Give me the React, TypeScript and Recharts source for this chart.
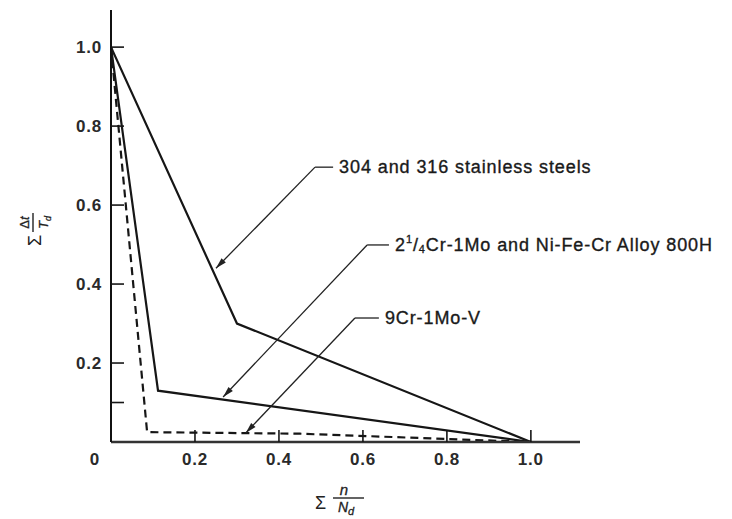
import React from 'react';
import { LineChart, Line, XAxis, YAxis, ReferenceLine } from 'recharts';

// Σ n/N_d values (x) and Σ Δt/T_d values (y) for each material
const stainlessX = [0, 0.3, 1.0];
const stainlessY = [1.0, 0.3, 0.0];
const crMoX = [0, 0.112, 1.0];
const crMoY = [1.0, 0.13, 0.0];
const crMoVX = [0, 0.086, 0.45, 1.0];
const crMoVY = [1.0, 0.025, 0.021, 0.0];

const xTicks = [0, 0.2, 0.4, 0.6, 0.8, 1.0];
const xTickLabels = ['0', '0.2', '0.4', '0.6', '0.8', '1.0'];
const yTicks = [0.1, 0.2, 0.4, 0.6, 0.8, 1.0];
const yTickLabels = ['', '0.2', '0.4', '0.6', '0.8', '1.0'];

// annotation anchors in data space: arrow tip, leader bend, leader end
const noteLabels = ['304 and 316 stainless steels', '2¼Cr-1Mo and Ni-Fe-Cr Alloy 800H', '9Cr-1Mo-V'];
const noteTipX = [0.25, 0.267, 0.321];
const noteTipY = [0.44, 0.114, 0.023];
const noteBendX = [0.486, 0.61, 0.581];
const noteBendY = [0.696, 0.499, 0.314];
const noteEndX = [0.529, 0.662, 0.638];

const toPoints = (xs: number[], ys: number[]) => xs.map((x, i) => ({ x, y: ys[i] }));
const stainlessData = toPoints(stainlessX, stainlessY);
const crMoData = toPoints(crMoX, crMoY);
const crMoVData = toPoints(crMoVX, crMoVY);

const FONT = '"Liberation Sans", Arial, Helvetica, sans-serif';
const INK = '#161616';

const YTick = (props: any) => {
  const { x, y, payload } = props;
  const idx = yTicks.indexOf(payload.value);
  const label = idx >= 0 ? yTickLabels[idx] : '';
  return (
    <g>
      <line x1={x} y1={y} x2={x + 13} y2={y} stroke={INK} strokeWidth={1.6} />
      {label && (
        <text x={x - 9} y={y} textAnchor="end" dominantBaseline="central" fontFamily={FONT}
          fontSize={17} fontWeight={600} fill="#2a2a2a" letterSpacing={0.8}>{label}</text>
      )}
    </g>
  );
};

const XTick = (props: any) => {
  const { x, y, payload } = props;
  const idx = xTicks.indexOf(payload.value);
  const label = idx >= 0 ? xTickLabels[idx] : '';
  const isZero = payload.value === 0;
  return (
    <g>
      {!isZero && <line x1={x} y1={y} x2={x} y2={y - 12} stroke={INK} strokeWidth={1.6} />}
      <text x={isZero ? x - 16 : x} y={y + 17} textAnchor="middle" dominantBaseline="central"
        fontFamily={FONT} fontSize={17} fontWeight={600} fill="#2a2a2a" letterSpacing={0.8}>{label}</text>
    </g>
  );
};

const YTitle = () => (
  <g transform="translate(25,220) rotate(-90)" fontFamily={FONT} fill="#222">
    <text x={-18} y={8} fontSize={18}>Σ</text>
    <text x={5.5} y={-4} fontSize={13} textAnchor="middle" stroke="#222" strokeWidth={0.3}>Δ<tspan fontStyle="italic">t</tspan></text>
    <line x1={-4} y1={0} x2={15} y2={0} stroke="#222" strokeWidth={1.4} />
    <text x={5.5} y={15} fontSize={13} textAnchor="middle" fontStyle="italic" stroke="#222" strokeWidth={0.3}>T<tspan fontSize={9} dy={3}>d</tspan></text>
  </g>
);

const XTitle = () => (
  <g fontFamily={FONT} fill="#222">
    <text x={307} y={501} fontSize={18}>Σ</text>
    <text x={336} y={487} fontSize={15} textAnchor="middle" fontStyle="italic" stroke="#222" strokeWidth={0.3}>n</text>
    <line x1={325} y1={490} x2={356} y2={490} stroke="#222" strokeWidth={1.4} />
    <text x={338} y={504} fontSize={14} textAnchor="middle" fontStyle="italic" stroke="#222" strokeWidth={0.3}>N<tspan fontSize={11} dy={3}>d</tspan></text>
  </g>
);

const ArrowShape = (p: any) => {
  const { x1, y1, x2, y2 } = p;
  const dx = x2 - x1;
  const dy = y2 - y1;
  const len = Math.hypot(dx, dy) || 1;
  const ux = dx / len;
  const uy = dy / len;
  const L = 11;
  const W = 3;
  const bx = x1 + ux * L;
  const by = y1 + uy * L;
  return (
    <g>
      <line x1={x1} y1={y1} x2={x2} y2={y2} stroke="#222" strokeWidth={1.3} />
      <polygon points={`${x1},${y1} ${bx - uy * W},${by + ux * W} ${bx + uy * W},${by - ux * W}`} fill="#222" />
    </g>
  );
};

const makeLeaderShape = (label: string) => (p: any) => {
  const { x1, y1, x2, y2 } = p;
  const isCr = label.startsWith('2¼');
  return (
    <g>
      <line x1={x1} y1={y1} x2={x2} y2={y2} stroke="#222" strokeWidth={1.3} />
      <text x={x2 + 6} y={y2} dominantBaseline="central" fontFamily={FONT} fontSize={18}
        fill="#1a1a1a" stroke="#1a1a1a" strokeWidth={0.35} letterSpacing={0.9}>
        {isCr ? (
          <>
            2<tspan fontSize={11} dy={-6}>1</tspan><tspan dy={6}>/</tspan><tspan fontSize={11} dy={4}>4</tspan><tspan dy={-4}>{label.slice(2)}</tspan>
          </>
        ) : label}
      </text>
    </g>
  );
};

export default function App() {
  return (
    <LineChart width={716} height={511} margin={{ top: 2, right: 144, bottom: 0, left: 0 }}>
      <XAxis type="number" dataKey="x" domain={[0, 1.117]} ticks={xTicks} allowDataOverflow
        height={77} tickSize={0} tickMargin={0} tick={<XTick />} tickLine={false}
        axisLine={{ stroke: '#333', strokeWidth: 2.5 }} label={<XTitle />} interval={0} />
      <YAxis type="number" dataKey="y" domain={[0, 1.094]} ticks={yTicks} allowDataOverflow
        width={103} tickSize={0} tickMargin={0} tick={<YTick />} tickLine={false}
        axisLine={{ stroke: '#111', strokeWidth: 2 }} label={<YTitle />} interval={0} />
      <Line data={stainlessData} dataKey="y" type="linear" stroke={INK} strokeWidth={2.2} dot={false} isAnimationActive={false} />
      <Line data={crMoData} dataKey="y" type="linear" stroke={INK} strokeWidth={2.2} dot={false} isAnimationActive={false} />
      <Line data={crMoVData} dataKey="y" type="linear" stroke={INK} strokeWidth={2.2} strokeDasharray="8 5" dot={false} isAnimationActive={false} />
      {noteLabels.map((lab, i) => (
        <ReferenceLine key={`a${i}`} segment={[{ x: noteTipX[i], y: noteTipY[i] }, { x: noteBendX[i], y: noteBendY[i] }]}
          shape={ArrowShape} />
      ))}
      {noteLabels.map((lab, i) => (
        <ReferenceLine key={`b${i}`} segment={[{ x: noteBendX[i], y: noteBendY[i] }, { x: noteEndX[i], y: noteBendY[i] }]}
          shape={makeLeaderShape(lab)} />
      ))}
    </LineChart>
  );
}
